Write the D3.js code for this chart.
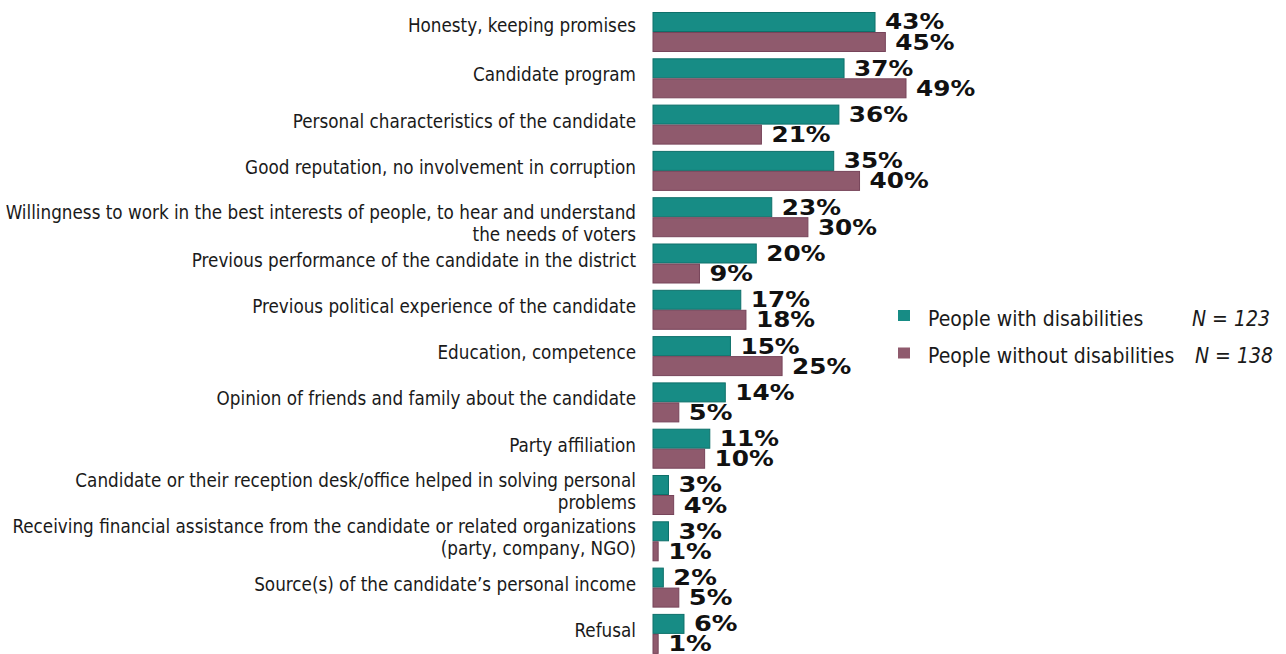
<!DOCTYPE html>
<html><head><meta charset="utf-8">
<script src="https://cdn.jsdelivr.net/npm/d3@7"></script>
<style>
body{margin:0;background:#fff;}
svg{display:block;}
</style></head>
<body>
<svg id="chart" width="1286" height="654"></svg>
<script>
const categories = [
  ["Honesty, keeping promises"],
  ["Candidate program"],
  ["Personal characteristics of the candidate"],
  ["Good reputation, no involvement in corruption"],
  ["Willingness to work in the best interests of people, to hear and understand", "the needs of voters"],
  ["Previous performance of the candidate in the district"],
  ["Previous political experience of the candidate"],
  ["Education, competence"],
  ["Opinion of friends and family about the candidate"],
  ["Party affiliation"],
  ["Candidate or their reception desk/office helped in solving personal", "problems"],
  ["Receiving financial assistance from the candidate or related organizations", "(party, company, NGO)"],
  ["Source(s) of the candidate\u2019s personal income"],
  ["Refusal"]
];
const withDisabilities = [43, 37, 36, 35, 23, 20, 17, 15, 14, 11, 3, 3, 2, 6];
const withoutDisabilities = [45, 49, 21, 40, 30, 9, 18, 25, 5, 10, 4, 1, 5, 1];
const seriesNames = ["People with disabilities", "People without disabilities"];
const seriesN = ["N = 123", "N = 138"];

const colors = ["#178c85", "#8f5a6d"];
const strokes = ["#0e706a", "#77445a"];

const svg = d3.select("#chart");
const keys = categories.map((c, i) => i);
const y = d3.scaleBand().domain(keys).range([8.85, 8.85 + 14 * 46.3]).paddingInner(0.136).paddingOuter(0.068);
const ySub = d3.scaleBand().domain([0, 1]).range([0, y.bandwidth()]);
const x = d3.scaleLinear().domain([0, 49]).range([653, 906]);

const data = [withDisabilities, withoutDisabilities];

// category labels (layout nudges for individual rows as in the original)
const labelNudge = {0: -3, 4: 10};
const lab = svg.append("g").attr("font-family", "'DejaVu Sans Condensed', 'DejaVu Sans', sans-serif")
  .attr("font-size", 18.7).attr("fill", "#1a1a1a").attr("text-anchor", "end");
categories.forEach((lines, i) => {
  const cy = y(i) + y.bandwidth() / 2;
  const lh = 22;
  const base = cy + 3 - (lines.length - 1) * lh / 2 + (labelNudge[i] || 0);
  const t = lab.append("text").attr("x", 636);
  lines.forEach((ln, j) => {
    t.append("tspan").attr("x", 636).attr("y", base + j * lh).text(ln);
  });
});

// bars
data.forEach((vals, s) => {
  const g = svg.append("g");
  g.selectAll("rect").data(vals).join("rect")
    .attr("x", x(0))
    .attr("y", (d, i) => y(i) + ySub(s) + 0.5)
    .attr("width", d => x(d) - x(0))
    .attr("height", ySub.bandwidth() - 1)
    .attr("fill", colors[s])
    .attr("stroke", strokes[s]).attr("stroke-width", 1);
  g.selectAll("text").data(vals).join("text")
    .attr("x", d => x(d) + 10)
    .attr("y", (d, i) => y(i) + ySub(s) + ySub.bandwidth() / 2 + 7.5)
    .attr("font-family", "'DejaVu Sans', sans-serif")
    .attr("font-weight", "bold").attr("font-size", 21)
    .attr("textLength", d => String(d).length * 15.6 + 28)
    .attr("lengthAdjust", "spacingAndGlyphs")
    .attr("fill", "#111")
    .text(d => d + "%");
});

// legend
const leg = svg.append("g");
seriesNames.forEach((name, s) => {
  const base = 325.5 + s * 37.5;
  leg.append("rect").attr("x", 898).attr("y", base - 15.5).attr("width", 12).attr("height", 11)
    .attr("fill", colors[s]);
  leg.append("text").attr("x", 928).attr("y", base)
    .attr("font-family", "'DejaVu Sans Condensed', 'DejaVu Sans', sans-serif")
    .attr("font-size", 21).attr("fill", "#1a1a1a").text(name);
  leg.append("text").attr("x", s === 0 ? 1270 : 1273).attr("y", base)
    .attr("text-anchor", "end")
    .attr("font-family", "'DejaVu Sans Condensed', 'DejaVu Sans', sans-serif")
    .attr("font-style", "italic")
    .attr("font-size", 21).attr("fill", "#1a1a1a").text(seriesN[s]);
});
</script>
</body></html>
